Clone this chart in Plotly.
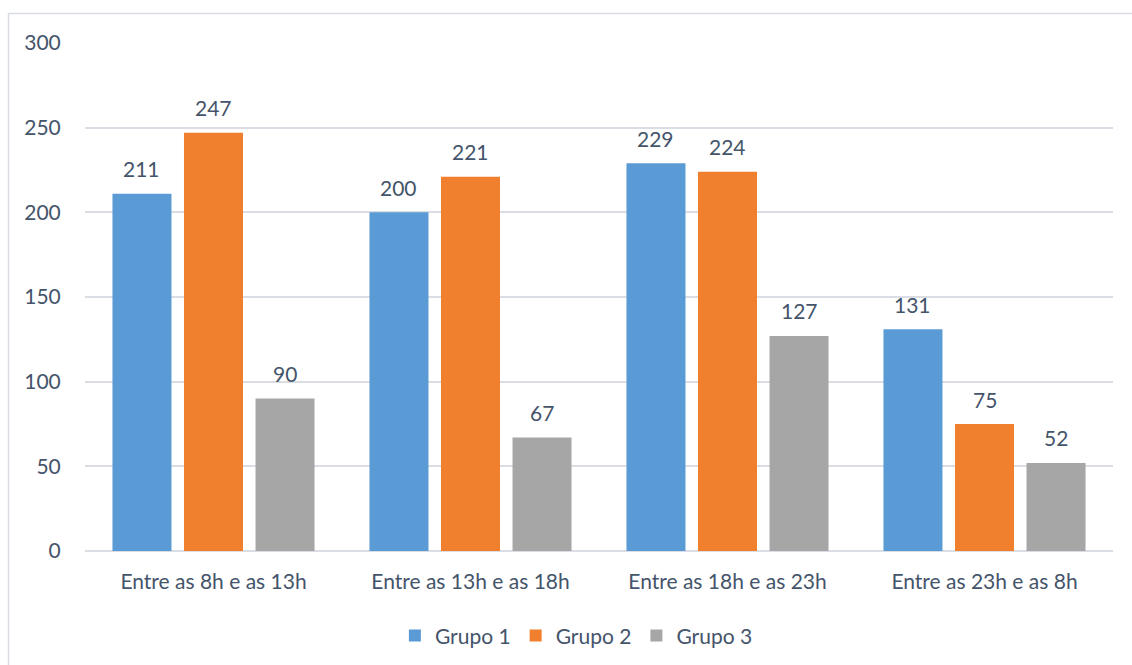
import plotly.graph_objects as go

categories = ["Entre as 8h e as 13h", "Entre as 13h e as 18h",
              "Entre as 18h e as 23h", "Entre as 23h e as 8h"]
grupo1 = [211, 200, 229, 131]
grupo2 = [247, 221, 224, 75]
grupo3 = [90, 67, 127, 52]
series_names = ["Grupo 1", "Grupo 2", "Grupo 3"]
y_ticks = [0, 50, 100, 150, 200, 250, 300]

colors = ["#5B9BD5", "#F07F2E", "#A6A6A6"]
text_color = "#44546A"
font_family = "Lato, 'Open Sans', sans-serif"
FS = 21
BARGAP = 0.165

fig = go.Figure()
for name, vals, col in zip(series_names, [grupo1, grupo2, grupo3], colors):
    fig.add_trace(go.Bar(
        x=categories, y=vals, name=name,
        marker=dict(color=col, line=dict(width=0)),
    ))

# value labels above each bar, placed at the grouped-bar offsets
slot = (1 - BARGAP) / 3
annotations = []
for j, vals in enumerate([grupo1, grupo2, grupo3]):
    for i, v in enumerate(vals):
        annotations.append(dict(
            x=i + (j - 1) * slot, y=v, xref="x", yref="y",
            text=str(v), showarrow=False, yanchor="middle", yshift=25,
            font=dict(family=font_family, size=FS, color=text_color),
        ))

fig.update_layout(
    width=1132, height=665,
    margin=dict(l=85, r=19, t=43, b=114, autoexpand=False),
    paper_bgcolor="white", plot_bgcolor="white",
    barmode="group", bargap=BARGAP, bargroupgap=0.175,
    font=dict(family=font_family, size=FS, color=text_color),
    showlegend=True,
    legend=dict(orientation="h", x=0.478, xanchor="center", y=-0.167,
                yanchor="middle", font=dict(size=FS, color=text_color),
                itemwidth=30, traceorder="normal"),
    annotations=annotations,
    shapes=[dict(type="rect", xref="paper", yref="paper",
                 x0=-0.0744, x1=1.1, y0=-0.3, y1=1.058,
                 line=dict(color="#D9DDE3", width=1.5), layer="below")],
)
fig.update_xaxes(showgrid=False, zeroline=False, showline=False,
                 automargin=False,
                 ticks="outside", ticklen=12, tickcolor="rgba(0,0,0,0)",
                 tickfont=dict(size=FS, color=text_color))
fig.update_yaxes(range=[0, 300], tickvals=y_ticks, showgrid=True,
                 automargin=False,
                 gridcolor="#DADEE4", gridwidth=1.5, zeroline=True,
                 zerolinecolor="#DADEE4", zerolinewidth=1.5, showline=False,
                 ticks="outside", ticklen=19, tickcolor="rgba(0,0,0,0)",
                 tickfont=dict(size=FS, color=text_color))

fig.write_html("out.html")
